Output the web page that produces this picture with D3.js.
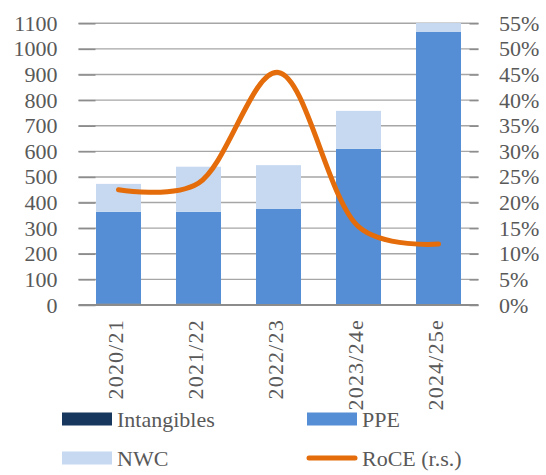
<!DOCTYPE html>
<html>
<head>
<meta charset="utf-8">
<script src="https://cdn.jsdelivr.net/npm/d3@7"></script>
<style>
  body { margin: 0; background: #fff; }
  svg text { font-family: "Liberation Serif", "DejaVu Serif", serif; fill: #595959; }
</style>
</head>
<body>
<svg id="chart" width="546" height="475"></svg>
<script>
// Capital employed by component (left axis) and RoCE (right axis)
const years = ["2020/21", "2021/22", "2022/23", "2023/24e", "2024/25e"];
const intangibles = [6, 6, 0, 0, 0];
const ppe = [358, 358, 375, 610, 1066];
const nwc = [109, 176, 171, 148, 35];
const roce = [22.5, 23.8, 45.4, 15.3, 11.9];

const leftTicks = [0, 100, 200, 300, 400, 500, 600, 700, 800, 900, 1000, 1100];
const rightTicks = [0, 5, 10, 15, 20, 25, 30, 35, 40, 45, 50, 55];

const seriesNames = ["Intangibles", "PPE", "NWC"];
const colors = { Intangibles: "#17375E", PPE: "#558ED5", NWC: "#C6D9F1", RoCE: "#E46C0A" };

const plot = { left: 78.5, right: 478.5, top: 23.3, bottom: 305 };
const svg = d3.select("#chart");

const x = d3.scaleBand().domain(years).range([plot.left, plot.right]).paddingInner(0.4375).paddingOuter(0.21875);
const yL = d3.scaleLinear().domain([0, 1100]).range([plot.bottom, plot.top]);
const yR = d3.scaleLinear().domain([0, 55]).range([plot.bottom, plot.top]);

// gridlines
svg.append("g").selectAll("line").data(leftTicks.slice(1)).join("line")
  .attr("x1", plot.left).attr("x2", plot.right)
  .attr("y1", d => yL(d)).attr("y2", d => yL(d))
  .attr("stroke", "#a6a6a6").attr("stroke-width", 1.4);

// stacked bars
const rows = years.map((y, i) => ({ year: y, Intangibles: intangibles[i], PPE: ppe[i], NWC: nwc[i] }));
const stacked = d3.stack().keys(seriesNames)(rows);
svg.append("g").selectAll("g").data(stacked).join("g")
  .attr("fill", d => colors[d.key])
  .selectAll("rect").data(d => d).join("rect")
  .attr("x", d => x(d.data.year))
  .attr("width", x.bandwidth())
  .attr("y", d => yL(d[1]))
  .attr("height", d => yL(d[0]) - yL(d[1]));

// axis tick marks (inside the plot on both sides)
const leftAxis = d3.axisRight(yL).tickValues(leftTicks).tickSize(17).tickFormat("");
const gl = svg.append("g").attr("transform", `translate(${plot.left},0)`).call(leftAxis);
gl.select(".domain").remove();
gl.selectAll(".tick line").attr("stroke", "#8c8c8c").attr("stroke-width", 1.5);

const rightAxis = d3.axisLeft(yR).tickValues(rightTicks).tickSize(9).tickFormat("");
const gr = svg.append("g").attr("transform", `translate(${plot.right},0)`).call(rightAxis);
gr.select(".domain").remove();
gr.selectAll(".tick line").attr("stroke", "#8c8c8c").attr("stroke-width", 1.5);

// baseline
svg.append("line").attr("x1", plot.left).attr("x2", plot.right)
  .attr("y1", yL(0)).attr("y2", yL(0)).attr("stroke", "#8c8c8c").attr("stroke-width", 1.8);

// tick labels
svg.append("g").selectAll("text").data(leftTicks).join("text")
  .attr("x", 57.5).attr("y", d => yL(d) + 7.5)
  .attr("text-anchor", "end").attr("font-size", 22).text(d => d);
svg.append("g").selectAll("text").data(rightTicks).join("text")
  .attr("x", 499).attr("y", d => yR(d) + 7.5)
  .attr("text-anchor", "start").attr("font-size", 22).text(d => d + "%");

// category labels, rotated
svg.append("g").selectAll("text").data(years).join("text")
  .attr("transform", d => `translate(${x(d) + x.bandwidth() / 2 + 4},319) rotate(-90)`)
  .attr("text-anchor", "end").attr("font-size", 22).attr("letter-spacing", 1.2).text(d => d);

// RoCE line, smoothed
const line = d3.line()
  .x((d, i) => x(years[i]) + x.bandwidth() / 2)
  .y(d => yR(d))
  .curve(d3.curveCatmullRom.alpha(0.3));
svg.append("path").datum(roce).attr("d", line)
  .attr("fill", "none").attr("stroke", colors.RoCE).attr("stroke-width", 5)
  .attr("stroke-linecap", "round").attr("stroke-linejoin", "round");

// legend
const legend = [
  { name: "Intangibles", x: 62, y: 419, type: "rect" },
  { name: "PPE", x: 307, y: 419, type: "rect" },
  { name: "NWC", x: 62, y: 458, type: "rect" },
  { name: "RoCE (r.s.)", x: 307, y: 458, type: "line", key: "RoCE" }
];
const lg = svg.append("g").selectAll("g").data(legend).join("g")
  .attr("transform", d => `translate(${d.x},${d.y})`);
lg.filter(d => d.type === "rect").append("rect")
  .attr("x", 0).attr("y", -6.5).attr("width", 50).attr("height", 13)
  .attr("fill", d => colors[d.name]);
lg.filter(d => d.type === "line").append("line")
  .attr("x1", 2).attr("x2", 48).attr("y1", 0).attr("y2", 0)
  .attr("stroke", d => colors[d.key]).attr("stroke-width", 5).attr("stroke-linecap", "round");
lg.append("text").attr("x", 55).attr("y", 7.5).attr("font-size", 22).text(d => d.name);
</script>
</body>
</html>
